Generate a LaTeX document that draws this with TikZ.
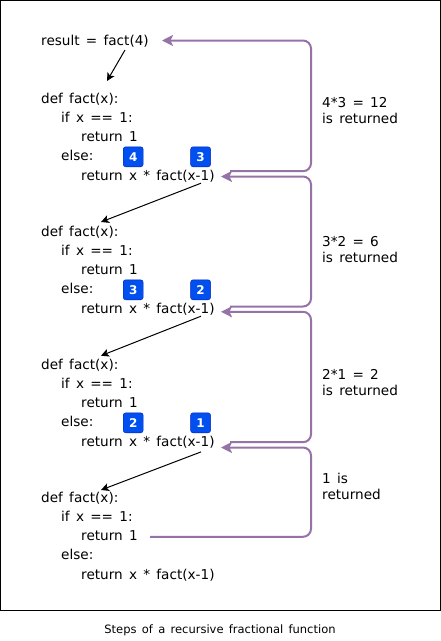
\documentclass[tikz,border=0pt]{standalone}
\usepackage{xcolor}
\usepackage{fontspec}
\setmainfont[WordSpace=1.45]{DejaVu Sans}
\usetikzlibrary{arrows.meta,positioning,calc}
\definecolor{ReturnPurple}{HTML}{9673A6}
\definecolor{BadgeBlue}{HTML}{0050EF}
\definecolor{BadgeEdge}{HTML}{001DBC}
\tikzset{
  code/.style={inner sep=0pt, text height=10pt, text depth=2pt,
    font=\fontsize{13.6}{16}\selectfont},
  badge/.style={draw=BadgeEdge, fill=BadgeBlue, text=white, rounded corners=2.5pt,
    inner sep=0pt, minimum size=20pt, font=\fontsize{12}{14}\selectfont\bfseries},
  returnlabel/.style={anchor=west, align=left, inner sep=0pt,
    font=\fontsize{13.6}{16}\selectfont},
  captionlabel/.style={inner sep=0pt, font=\fontsize{11.5}{13}\selectfont},
  frameline/.style={draw=black, line width=1pt},
  callwire/.style={-{Stealth[length=8pt,width=8pt,inset=2pt]}, line width=1pt},
  returnwire/.style={-{Stealth[length=11pt,width=11pt,inset=2.5pt]}, draw=ReturnPurple,
    line width=2pt, rounded corners=8pt}
}
\begin{document}
\begin{tikzpicture}[x=1pt, y=-1pt]
  \useasboundingbox (0,0) rectangle (441,641);
  \draw[frameline] (0.5,0.5) rectangle (440.5,610.5);
  \node[code, anchor=west] (result) at (41,41) {result = fact(4)};
  % the four copies of the function
  \foreach \n/\y/\s/\t/\h in {1/99/-5/7/-18,2/232/-2.7/7/-10,3/365/0/9.7/-9.3,4/498/0/0/-8} {
    \node[code, anchor=west] (def\n) at (41,\y) {def fact(x):};
    \node[code, below right=7pt and 20pt of def\n.south west] (if\n) {if x == 1:};
    \node[code, below right=7pt and 20pt of if\n.south west] (base\n) {return 1};
    \node[code, below right=26pt and 0pt of if\n.south west] (else\n) {else:};
    \node[code, below right=7pt and 20pt of else\n.south west] (recur\n) {return x * fact(x-1)};
    \coordinate (tail\n) at ($(recur\n.west)+(120,\t)$);
    \coordinate (head\n) at ($(def\n.west)+(60,\h)$);
    \coordinate (out\n) at ($(recur\n.west)+(149,\s)$);
    \coordinate (in\n) at ($(out\n)+(-9,5.3)$);
  }
  \foreach \n/\l/\r in {1/4/3,2/3/2,3/2/1} {
    \node[badge, right=62pt of else\n.west] (left\n) {\l};
    \node[badge, right=47pt of left\n] (right\n) {\r};
  }
  % return values
  \node[returnlabel] (value1) at (322,111) {4*3 = 12\\is returned};
  \node[returnlabel] (value2) at (322,250) {3*2 = 6\\is returned};
  \node[returnlabel] (value3) at (322,383) {2*1 = 2\\is returned};
  \node[returnlabel] (value4) at (322,486) {1 is\\returned};
  \node[captionlabel] (caption) at (220,630) {Steps of a recursive fractional function};
  % calls going down
  \coordinate (tail0) at ($(result.west)+(84,9)$);
  \coordinate (head0) at ($(def1.west)+(66,-18)$);
  \draw[callwire] (tail0) -- (head0);
  \draw[callwire] (tail1) -- (head2);
  \draw[callwire] (tail2) -- (head3);
  \draw[callwire] (tail3) -- (head4);
  % returns going up
  \coordinate (rail) at (311,0);
  \coordinate (in0) at ($(result.west)+(121,-0.5)$);
  \coordinate (out4) at ($(base4.west)+(69,0)$);
  \draw[returnwire] (out1) -- (out1 -| rail) -- (rail |- in0) -- (in0);
  \draw[returnwire] (out2) -- (out2 -| rail) -- (rail |- in1) -- (in1);
  \draw[returnwire] (out3) -- (out3 -| rail) -- (rail |- in2) -- (in2);
  \draw[returnwire] (out4) -- (out4 -| rail) -- (rail |- in3) -- (in3);
\end{tikzpicture}
\end{document}
